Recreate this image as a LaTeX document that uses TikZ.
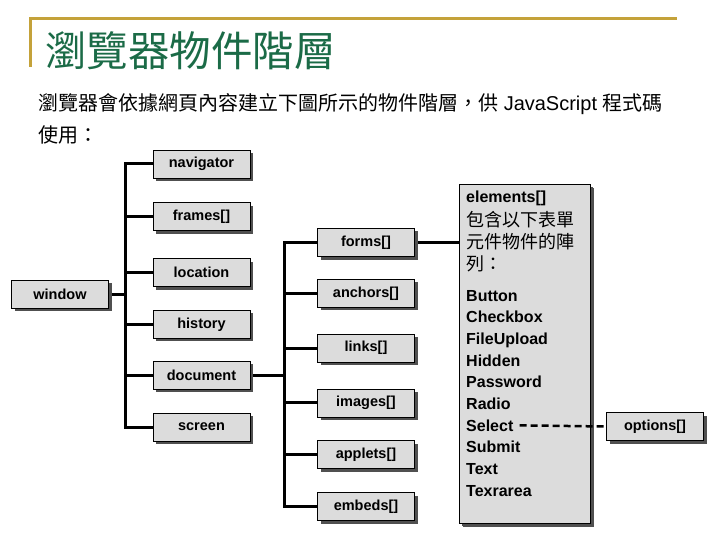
\documentclass[tikz,border=0pt]{standalone}
\usepackage{fontspec}
\setmainfont{Liberation Sans}
\newfontfamily\cjk{Noto Sans CJK TC}
\usepackage{xcolor}
\usepackage{tikz}
\usetikzlibrary{positioning,shadows,backgrounds}
\definecolor{titlegreen}{HTML}{1B6B47}
\definecolor{rulegold}{HTML}{C4A23A}
\definecolor{boxgray}{HTML}{DCDCDC}
\definecolor{shadegray}{HTML}{505050}

\tikzset{
  objbox/.style={draw=black,line width=0.8pt,fill=boxgray,
                 minimum width=97pt,minimum height=28pt,inner sep=0pt,
                 font=\fontsize{14.5}{16}\selectfont\bfseries,
                 drop shadow={shadow xshift=3pt,shadow yshift=-3pt,fill=shadegray,opacity=1}},
  branch/.style={line width=3pt,line cap=rect},
  itemtext/.style={anchor=base west,inner sep=0pt,font=\fontsize{16}{18}\selectfont\bfseries},
  itemcjk/.style={anchor=base west,inner sep=0pt,font=\fontsize{18}{20}\selectfont\cjk}
}

\begin{document}
\begin{tikzpicture}[x=1pt,y=-1pt]
  \useasboundingbox (0,0) rectangle (720,540);
  % heading
  \draw[rulegold,line width=3pt] (677,18.5) -- (30.5,18.5) -- (30.5,67);
  \node[anchor=base west,inner sep=0pt,text=titlegreen,
        font=\fontsize{41.5}{44}\selectfont\cjk] (title) at (45,67) {瀏覽器物件階層};
  \node[anchor=base west,inner sep=0pt,font=\fontsize{20}{24}\selectfont] (intro) at (38,111)
        {{\cjk 瀏覽器會依據網頁內容建立下圖所示的物件階層，供} JavaScript {\cjk 程式碼}};
  \node[anchor=base west,inner sep=0pt,font=\fontsize{20}{24}\selectfont\cjk]
        (intro2) at (38,143) {使用：};

  % window and its children
  \node[objbox] (window) at (60,294) {window};
  \node[objbox] (navigator) at (201.5,164) {navigator};
  \node[objbox,below=24pt of navigator] (frames) {frames[]};
  \node[objbox,below=27pt of frames] (location) {location};
  \node[objbox,below=23pt of location] (history) {history};
  \node[objbox,below=22pt of history] (document) {document};
  \node[objbox,below=23pt of document] (screen) {screen};
  \coordinate (trunkA) at (125,294);

  % document children
  \node[objbox] (forms) at (366,242.5) {forms[]};
  \node[objbox,below=22pt of forms] (anchors) {anchors[]};
  \node[objbox,below=26pt of anchors] (links) {links[]};
  \node[objbox,below=26pt of links] (images) {images[]};
  \node[objbox,below=23pt of images] (applets) {applets[]};
  \node[objbox,below=23pt of applets] (embeds) {embeds[]};
  \coordinate (trunkB) at (284,372);

  % form elements
  \node[objbox,minimum width=131pt,minimum height=339pt,
        drop shadow={shadow xshift=4pt,shadow yshift=-4pt,fill=shadegray,opacity=1}]
        (elements) at (524.5,353.5) {};
  \node[itemtext] (elemname) at (466,203) {elements[]};
  \node[itemcjk] (desc1) at (466,226) {包含以下表單};
  \node[itemcjk] (desc2) at (466,248) {元件物件的陣};
  \node[itemcjk] (desc3) at (466,270) {列：};
  \node[itemtext] (button) at (466,301) {Button};
  \node[itemtext] (checkbox) at (466,322.7) {Checkbox};
  \node[itemtext] (fileupload) at (466,344.3) {FileUpload};
  \node[itemtext] (hidden) at (466,366) {Hidden};
  \node[itemtext] (password) at (466,387.7) {Password};
  \node[itemtext] (radio) at (466,409.3) {Radio};
  \node[itemtext] (select) at (466,431) {Select};
  \node[itemtext] (submit) at (466,452.7) {Submit};
  \node[itemtext] (text) at (466,474.3) {Text};
  \node[itemtext] (texrarea) at (466,496) {Texrarea};
  \node[objbox] (options) at (655,426.5) {options[]};

  \begin{scope}[on background layer]
    \draw[branch] (window.east) -- (window.east -| trunkA);
    \draw[branch] (navigator.west -| trunkA) -- (screen.west -| trunkA);
    \draw[branch] (navigator.west) -- (navigator.west -| trunkA);
    \draw[branch] (frames.west) -- (frames.west -| trunkA);
    \draw[branch] (location.west) -- (location.west -| trunkA);
    \draw[branch] (history.west) -- (history.west -| trunkA);
    \draw[branch] (document.west) -- (document.west -| trunkA);
    \draw[branch] (screen.west) -- (screen.west -| trunkA);
    \draw[branch] (document.east) -- (document.east -| trunkB);
    \draw[branch] (forms.west -| trunkB) -- (embeds.west -| trunkB);
    \draw[branch] (forms.west) -- (forms.west -| trunkB);
    \draw[branch] (anchors.west) -- (anchors.west -| trunkB);
    \draw[branch] (links.west) -- (links.west -| trunkB);
    \draw[branch] (images.west) -- (images.west -| trunkB);
    \draw[branch] (applets.west) -- (applets.west -| trunkB);
    \draw[branch] (embeds.west) -- (embeds.west -| trunkB);
    \draw[branch] (forms.east) -- (forms.east -| elements.west);
  \end{scope}
  \draw[line width=2.5pt,dash pattern=on 7pt off 4pt,shorten <=6pt]
    (select.east) -- (options.west);
\end{tikzpicture}
\end{document}
